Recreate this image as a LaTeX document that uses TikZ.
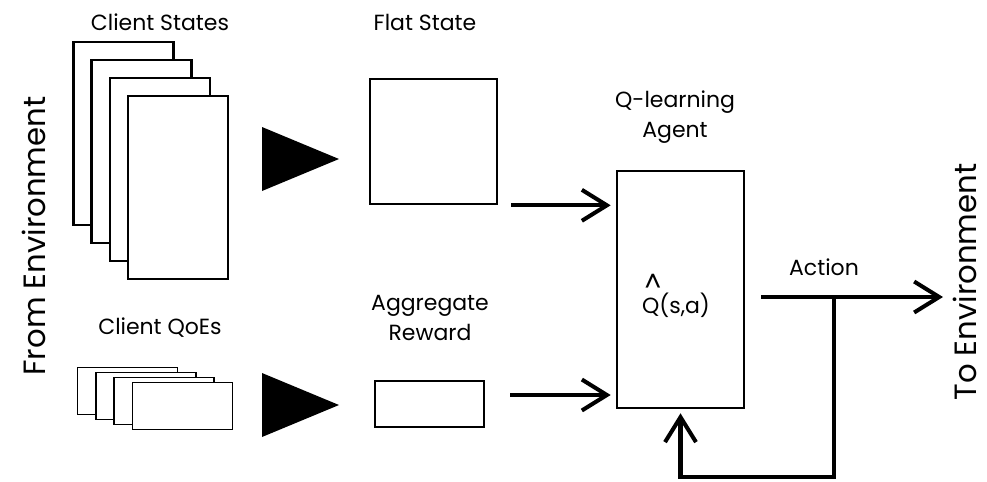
\documentclass[tikz,border=0pt]{standalone}
\usepackage{fontspec}
\setmainfont{Poppins}
\usetikzlibrary{arrows.meta}
\tikzset{
  sheet/.style={draw, line width=1.5pt, fill=white, minimum width=2cm, minimum height=3.66cm},
  slip/.style={draw, line width=1pt, fill=white, minimum width=2cm, minimum height=0.94cm},
  box/.style={draw, line width=1.5pt, fill=white},
  flow/.style={line width=2.3pt, -{Straight Barb[length=0.5cm, width=0.62cm, line width=2.3pt]}},
  lbl/.style={font=\fontsize{12.5}{17}\selectfont, align=center},
  side/.style={font=\fontsize{17.5}{22}\selectfont, rotate=90, inner sep=0pt}
}
\begin{document}
\begin{tikzpicture}[x=0.02cm, y=-0.02cm]
\useasboundingbox (0,0) rectangle (987,481);
% input side
\node[side] (fromenv) at (34,236) {From Environment};
\node[lbl] (cslbl) at (160,22) {Client States};
\foreach \i in {0,...,3}
  \node[sheet] (cs\i) at (123.5+18.2*\i,133.5+18*\i) {};
\node[lbl] (qoelbl) at (160,328) {Client QoEs};
\foreach \i in {0,...,3}
  \node[slip] (qoe\i) at (127.5+18.3*\i,391+5*\i) {};
% flatten / aggregate
\fill (262,127) -- (339,159) -- (262,191) -- cycle;
\fill (262,373) -- (339,405) -- (262,437) -- cycle;
\node[lbl] (flatlbl) at (425,22) {Flat State};
\node[box, minimum width=2.54cm, minimum height=2.5cm] (flat) at (433.5,141.5) {};
\node[lbl] (rewlbl) at (430,318) {Aggregate\\Reward};
\node[box, minimum width=2.54cm, minimum height=4.74cm] (agent) at (680.5,289.5) {};
\node[box, minimum width=2.18cm, minimum height=0.92cm] (reward) at (429.5,404) {};
% agent
\node[lbl] (agentlbl) at (675,117) {Q-learning\\Agent};
\node[lbl] (qval) at (676,296) {\makebox[0pt][l]{\hspace{0.12em}\raisebox{0.95em}{\fontsize{15}{15}\selectfont\^{}}}Q(s,a)};
\draw[flow] ([xshift=0.26cm]flat.south east) -- ([xshift=-0.1cm]flat.south east -| agent.west);
\draw[flow] ([xshift=0.5cm, yshift=0.18cm]reward.east) -- ([xshift=-0.1cm, yshift=0.18cm]reward.east -| agent.west);
% output side
\node[lbl] (actlbl) at (824,267) {Action};
\coordinate (split) at (834,297);
\coordinate (toenvpt) at (943,297);
\draw[flow] ([xshift=0.32cm]agent.east |- split) -- (toenvpt);
\draw[flow, line join=miter] (split) -- (834,477) -- (agent.south |- 0,477) -- ([yshift=-0.08cm]agent.south);
\node[side] (toenv) at (965,282) {To Environment};
\end{tikzpicture}
\end{document}
